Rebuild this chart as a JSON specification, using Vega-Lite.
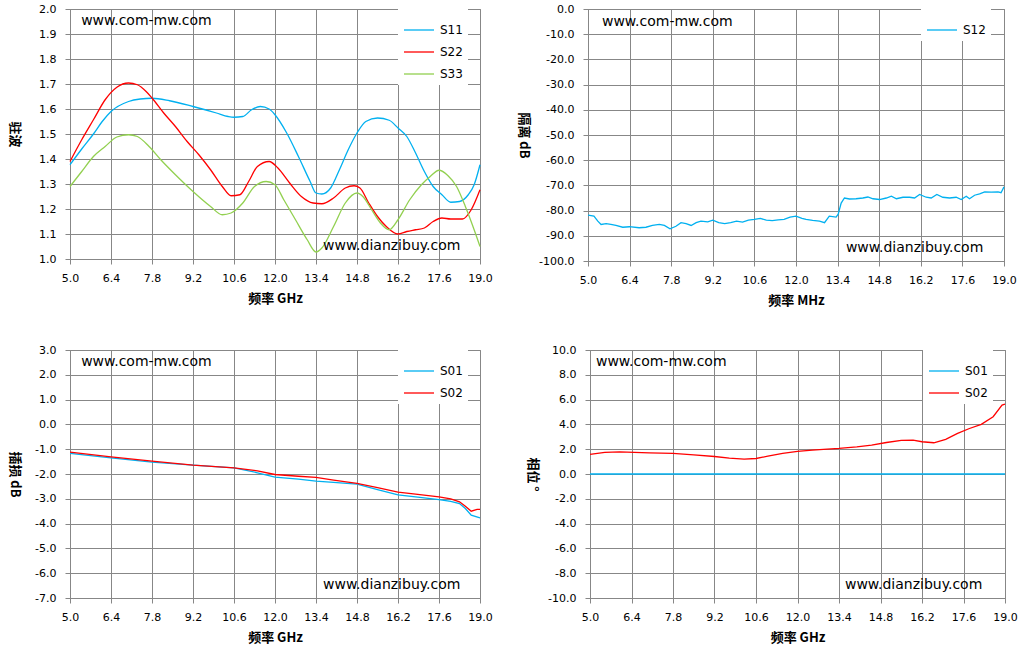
{
  "$schema": "https://vega.github.io/schema/vega-lite/v6.json",
  "background": "white",
  "padding": {"left": 6, "top": 2, "right": 0, "bottom": 0},
  "datasets": {
    "swr": [
      {"s":"S11","f":5.0,"v":1.377},{"s":"S11","f":5.4,"v":1.44},{"s":"S11","f":5.8,"v":1.5},{"s":"S11","f":6.1,"v":1.55},{"s":"S11","f":6.4,"v":1.59},{"s":"S11","f":7.0,"v":1.63},{"s":"S11","f":7.4,"v":1.64},{"s":"S11","f":7.8,"v":1.643},{"s":"S11","f":8.4,"v":1.633},{"s":"S11","f":9.2,"v":1.61},{"s":"S11","f":10.0,"v":1.584},{"s":"S11","f":10.4,"v":1.57},{"s":"S11","f":10.6,"v":1.567},{"s":"S11","f":10.9,"v":1.57},{"s":"S11","f":11.2,"v":1.597},{"s":"S11","f":11.5,"v":1.61},{"s":"S11","f":11.8,"v":1.6},{"s":"S11","f":12.0,"v":1.577},{"s":"S11","f":12.4,"v":1.504},{"s":"S11","f":12.8,"v":1.41},{"s":"S11","f":13.2,"v":1.31},{"s":"S11","f":13.4,"v":1.264},{"s":"S11","f":13.6,"v":1.26},{"s":"S11","f":13.9,"v":1.284},{"s":"S11","f":14.2,"v":1.357},{"s":"S11","f":14.5,"v":1.437},{"s":"S11","f":14.8,"v":1.504},{"s":"S11","f":15.1,"v":1.55},{"s":"S11","f":15.5,"v":1.564},{"s":"S11","f":15.9,"v":1.555},{"s":"S11","f":16.2,"v":1.524},{"s":"S11","f":16.5,"v":1.49},{"s":"S11","f":16.8,"v":1.424},{"s":"S11","f":17.1,"v":1.35},{"s":"S11","f":17.4,"v":1.29},{"s":"S11","f":17.7,"v":1.257},{"s":"S11","f":18.0,"v":1.227},{"s":"S11","f":18.3,"v":1.23},{"s":"S11","f":18.6,"v":1.257},{"s":"S11","f":18.8,"v":1.297},{"s":"S11","f":19.0,"v":1.377},
      {"s":"S22","f":5.0,"v":1.39},{"s":"S22","f":5.4,"v":1.477},{"s":"S22","f":5.8,"v":1.557},{"s":"S22","f":6.2,"v":1.637},{"s":"S22","f":6.6,"v":1.687},{"s":"S22","f":7.0,"v":1.704},{"s":"S22","f":7.3,"v":1.697},{"s":"S22","f":7.6,"v":1.67},{"s":"S22","f":7.8,"v":1.644},{"s":"S22","f":8.2,"v":1.584},{"s":"S22","f":8.6,"v":1.53},{"s":"S22","f":9.0,"v":1.47},{"s":"S22","f":9.4,"v":1.417},{"s":"S22","f":9.8,"v":1.357},{"s":"S22","f":10.2,"v":1.29},{"s":"S22","f":10.5,"v":1.253},{"s":"S22","f":10.8,"v":1.257},{"s":"S22","f":11.1,"v":1.31},{"s":"S22","f":11.4,"v":1.37},{"s":"S22","f":11.8,"v":1.39},{"s":"S22","f":12.1,"v":1.364},{"s":"S22","f":12.5,"v":1.304},{"s":"S22","f":12.9,"v":1.25},{"s":"S22","f":13.3,"v":1.224},{"s":"S22","f":13.6,"v":1.221},{"s":"S22","f":14.0,"v":1.244},{"s":"S22","f":14.4,"v":1.284},{"s":"S22","f":14.7,"v":1.293},{"s":"S22","f":14.9,"v":1.284},{"s":"S22","f":15.2,"v":1.224},{"s":"S22","f":15.5,"v":1.17},{"s":"S22","f":15.8,"v":1.13},{"s":"S22","f":16.2,"v":1.1},{"s":"S22","f":16.5,"v":1.11},{"s":"S22","f":16.8,"v":1.117},{"s":"S22","f":17.1,"v":1.124},{"s":"S22","f":17.4,"v":1.15},{"s":"S22","f":17.7,"v":1.164},{"s":"S22","f":18.0,"v":1.16},{"s":"S22","f":18.4,"v":1.16},{"s":"S22","f":18.7,"v":1.197},{"s":"S22","f":19.0,"v":1.277},
      {"s":"S33","f":5.0,"v":1.29},{"s":"S33","f":5.4,"v":1.35},{"s":"S33","f":5.8,"v":1.41},{"s":"S33","f":6.2,"v":1.45},{"s":"S33","f":6.6,"v":1.488},{"s":"S33","f":7.0,"v":1.497},{"s":"S33","f":7.3,"v":1.49},{"s":"S33","f":7.7,"v":1.45},{"s":"S33","f":8.1,"v":1.397},{"s":"S33","f":8.6,"v":1.337},{"s":"S33","f":9.2,"v":1.27},{"s":"S33","f":9.8,"v":1.21},{"s":"S33","f":10.2,"v":1.177},{"s":"S33","f":10.5,"v":1.184},{"s":"S33","f":10.9,"v":1.224},{"s":"S33","f":11.3,"v":1.29},{"s":"S33","f":11.7,"v":1.31},{"s":"S33","f":12.0,"v":1.297},{"s":"S33","f":12.3,"v":1.237},{"s":"S33","f":12.7,"v":1.157},{"s":"S33","f":13.1,"v":1.077},{"s":"S33","f":13.4,"v":1.028},{"s":"S33","f":13.6,"v":1.044},{"s":"S33","f":14.0,"v":1.13},{"s":"S33","f":14.4,"v":1.224},{"s":"S33","f":14.8,"v":1.264},{"s":"S33","f":15.0,"v":1.25},{"s":"S33","f":15.3,"v":1.197},{"s":"S33","f":15.6,"v":1.144},{"s":"S33","f":15.9,"v":1.117},{"s":"S33","f":16.2,"v":1.157},{"s":"S33","f":16.6,"v":1.237},{"s":"S33","f":17.0,"v":1.297},{"s":"S33","f":17.3,"v":1.33},{"s":"S33","f":17.6,"v":1.355},{"s":"S33","f":17.9,"v":1.334},{"s":"S33","f":18.2,"v":1.29},{"s":"S33","f":18.5,"v":1.21},{"s":"S33","f":18.8,"v":1.117},{"s":"S33","f":19.0,"v":1.05}
    ],
    "iso": [
      {"s":"S12","f":5.0,"v":-81.8},{"s":"S12","f":5.2,"v":-82.2},{"s":"S12","f":5.33,"v":-84.2},{"s":"S12","f":5.44,"v":-85.5},{"s":"S12","f":5.61,"v":-85.2},{"s":"S12","f":5.77,"v":-85.5},{"s":"S12","f":5.94,"v":-85.9},{"s":"S12","f":6.17,"v":-86.6},{"s":"S12","f":6.39,"v":-86.4},{"s":"S12","f":6.72,"v":-86.8},{"s":"S12","f":6.95,"v":-86.6},{"s":"S12","f":7.17,"v":-85.9},{"s":"S12","f":7.4,"v":-85.5},{"s":"S12","f":7.57,"v":-85.9},{"s":"S12","f":7.76,"v":-87.2},{"s":"S12","f":7.96,"v":-86.2},{"s":"S12","f":8.13,"v":-84.8},{"s":"S12","f":8.3,"v":-85.2},{"s":"S12","f":8.47,"v":-85.9},{"s":"S12","f":8.64,"v":-84.8},{"s":"S12","f":8.8,"v":-84.2},{"s":"S12","f":9.03,"v":-84.5},{"s":"S12","f":9.2,"v":-83.8},{"s":"S12","f":9.4,"v":-84.8},{"s":"S12","f":9.6,"v":-85.2},{"s":"S12","f":9.8,"v":-84.8},{"s":"S12","f":10.0,"v":-84.2},{"s":"S12","f":10.2,"v":-84.6},{"s":"S12","f":10.4,"v":-83.8},{"s":"S12","f":10.6,"v":-83.5},{"s":"S12","f":10.8,"v":-83.1},{"s":"S12","f":11.0,"v":-83.8},{"s":"S12","f":11.2,"v":-84.0},{"s":"S12","f":11.4,"v":-83.7},{"s":"S12","f":11.6,"v":-83.5},{"s":"S12","f":11.8,"v":-82.6},{"s":"S12","f":12.0,"v":-82.2},{"s":"S12","f":12.2,"v":-83.1},{"s":"S12","f":12.34,"v":-83.5},{"s":"S12","f":12.56,"v":-83.9},{"s":"S12","f":12.79,"v":-84.2},{"s":"S12","f":12.96,"v":-84.8},{"s":"S12","f":13.12,"v":-82.2},{"s":"S12","f":13.35,"v":-82.6},{"s":"S12","f":13.42,"v":-81.4},{"s":"S12","f":13.52,"v":-77.0},{"s":"S12","f":13.63,"v":-75.0},{"s":"S12","f":13.8,"v":-75.4},{"s":"S12","f":14.02,"v":-75.3},{"s":"S12","f":14.25,"v":-75.0},{"s":"S12","f":14.42,"v":-74.6},{"s":"S12","f":14.59,"v":-75.3},{"s":"S12","f":14.81,"v":-75.6},{"s":"S12","f":15.04,"v":-75.0},{"s":"S12","f":15.21,"v":-74.3},{"s":"S12","f":15.38,"v":-75.3},{"s":"S12","f":15.6,"v":-74.7},{"s":"S12","f":15.82,"v":-74.7},{"s":"S12","f":15.99,"v":-75.0},{"s":"S12","f":16.16,"v":-73.6},{"s":"S12","f":16.38,"v":-74.7},{"s":"S12","f":16.55,"v":-75.0},{"s":"S12","f":16.74,"v":-73.6},{"s":"S12","f":16.94,"v":-74.7},{"s":"S12","f":17.17,"v":-75.0},{"s":"S12","f":17.39,"v":-74.7},{"s":"S12","f":17.56,"v":-75.6},{"s":"S12","f":17.73,"v":-74.3},{"s":"S12","f":17.84,"v":-75.3},{"s":"S12","f":18.01,"v":-73.9},{"s":"S12","f":18.18,"v":-73.4},{"s":"S12","f":18.35,"v":-72.6},{"s":"S12","f":18.57,"v":-72.7},{"s":"S12","f":18.8,"v":-72.6},{"s":"S12","f":18.9,"v":-72.9},{"s":"S12","f":19.0,"v":-70.6}
    ],
    "loss": [
      {"s":"S01","f":5.0,"v":-1.17},{"s":"S01","f":6.4,"v":-1.35},{"s":"S01","f":7.8,"v":-1.52},{"s":"S01","f":9.2,"v":-1.64},{"s":"S01","f":10.6,"v":-1.75},{"s":"S01","f":11.4,"v":-1.95},{"s":"S01","f":12.0,"v":-2.13},{"s":"S01","f":12.8,"v":-2.21},{"s":"S01","f":13.4,"v":-2.29},{"s":"S01","f":14.0,"v":-2.34},{"s":"S01","f":14.8,"v":-2.41},{"s":"S01","f":15.5,"v":-2.63},{"s":"S01","f":16.2,"v":-2.84},{"s":"S01","f":16.8,"v":-2.92},{"s":"S01","f":17.6,"v":-3.03},{"s":"S01","f":18.0,"v":-3.1},{"s":"S01","f":18.3,"v":-3.19},{"s":"S01","f":18.5,"v":-3.39},{"s":"S01","f":18.7,"v":-3.66},{"s":"S01","f":19.0,"v":-3.77},
      {"s":"S02","f":5.0,"v":-1.12},{"s":"S02","f":6.4,"v":-1.31},{"s":"S02","f":7.8,"v":-1.48},{"s":"S02","f":9.2,"v":-1.64},{"s":"S02","f":10.6,"v":-1.75},{"s":"S02","f":11.4,"v":-1.87},{"s":"S02","f":12.0,"v":-2.02},{"s":"S02","f":12.8,"v":-2.09},{"s":"S02","f":13.4,"v":-2.14},{"s":"S02","f":14.0,"v":-2.25},{"s":"S02","f":14.8,"v":-2.38},{"s":"S02","f":15.5,"v":-2.55},{"s":"S02","f":16.2,"v":-2.73},{"s":"S02","f":16.8,"v":-2.81},{"s":"S02","f":17.6,"v":-2.92},{"s":"S02","f":18.0,"v":-3.0},{"s":"S02","f":18.3,"v":-3.12},{"s":"S02","f":18.5,"v":-3.3},{"s":"S02","f":18.7,"v":-3.5},{"s":"S02","f":18.9,"v":-3.43},{"s":"S02","f":19.0,"v":-3.43}
    ],
    "phase": [
      {"s":"S01","f":5.0,"v":0.0},{"s":"S01","f":19.0,"v":0.0},
      {"s":"S02","f":5.0,"v":1.58},{"s":"S02","f":5.5,"v":1.74},{"s":"S02","f":6.0,"v":1.79},{"s":"S02","f":6.5,"v":1.74},{"s":"S02","f":7.0,"v":1.71},{"s":"S02","f":7.8,"v":1.66},{"s":"S02","f":8.5,"v":1.55},{"s":"S02","f":9.2,"v":1.41},{"s":"S02","f":9.7,"v":1.28},{"s":"S02","f":10.2,"v":1.2},{"s":"S02","f":10.6,"v":1.25},{"s":"S02","f":11.0,"v":1.44},{"s":"S02","f":11.5,"v":1.66},{"s":"S02","f":12.0,"v":1.82},{"s":"S02","f":12.5,"v":1.92},{"s":"S02","f":13.0,"v":2.01},{"s":"S02","f":13.4,"v":2.06},{"s":"S02","f":14.0,"v":2.19},{"s":"S02","f":14.5,"v":2.33},{"s":"S02","f":15.0,"v":2.54},{"s":"S02","f":15.5,"v":2.71},{"s":"S02","f":15.9,"v":2.73},{"s":"S02","f":16.2,"v":2.6},{"s":"S02","f":16.6,"v":2.52},{"s":"S02","f":17.0,"v":2.79},{"s":"S02","f":17.4,"v":3.27},{"s":"S02","f":17.8,"v":3.67},{"s":"S02","f":18.2,"v":4.0},{"s":"S02","f":18.6,"v":4.62},{"s":"S02","f":18.9,"v":5.56},{"s":"S02","f":19.0,"v":5.64}
    ]
  },
  "vconcat": [
    {
      "spacing": 22,
      "hconcat": [
        {
          "width": 410, "height": 250,
          "layer": [
            {
              "data": {"name": "swr"},
              "mark": {"type": "line", "strokeWidth": 1.3, "interpolate": "monotone"},
              "encoding": {
                "x": {"field": "f", "type": "quantitative", "scale": {"domain": [5, 19], "nice": false, "zero": false},
                      "axis": {"values": [5, 6.4, 7.8, 9.2, 10.6, 12, 13.4, 14.8, 16.2, 17.6, 19], "format": ".1f", "title": "频率 GHz"}},
                "y": {"field": "v", "type": "quantitative", "scale": {"domain": [1, 2], "nice": false, "zero": false},
                      "axis": {"values": [1, 1.1, 1.2, 1.3, 1.4, 1.5, 1.6, 1.7, 1.8, 1.9, 2], "format": ".1f", "title": "驻波", "minExtent": 40, "maxExtent": 40}},
                "color": {"field": "s", "type": "nominal", "scale": {"domain": ["S11", "S22", "S33"], "range": ["#00B0F0", "#FF0000", "#92D050"]},
                          "legend": {"legendX": 328, "legendY": 0}}
              }
            },
            {
              "data": {"values": [{"f": 5.38, "v": 1.952, "t": "www.com-mw.com"}, {"f": 13.64, "v": 1.052, "t": "www.dianzibuy.com"}]},
              "mark": {"type": "text", "font": "DejaVu Sans", "fontSize": 14, "align": "left", "baseline": "middle", "color": "#000000"},
              "encoding": {"x": {"field": "f", "type": "quantitative"}, "y": {"field": "v", "type": "quantitative"}, "text": {"field": "t"}}
            }
          ]
        },
        {
          "width": 416, "height": 252,
          "layer": [
            {
              "data": {"name": "iso"},
              "mark": {"type": "line", "strokeWidth": 1.3},
              "encoding": {
                "x": {"field": "f", "type": "quantitative", "scale": {"domain": [5, 19], "nice": false, "zero": false},
                      "axis": {"values": [5, 6.4, 7.8, 9.2, 10.6, 12, 13.4, 14.8, 16.2, 17.6, 19], "format": ".1f", "title": "频率 MHz"}},
                "y": {"field": "v", "type": "quantitative", "scale": {"domain": [-100, 0], "nice": false, "zero": false},
                      "axis": {"values": [-100, -90, -80, -70, -60, -50, -40, -30, -20, -10, 0], "format": ".1f", "title": "隔离 dB", "minExtent": 49, "maxExtent": 49}},
                "color": {"field": "s", "type": "nominal", "scale": {"domain": ["S12"], "range": ["#00B0F0"]},
                          "legend": {"legendX": 333, "legendY": 0}}
              }
            },
            {
              "data": {"values": [{"f": 5.47, "v": -5.1, "t": "www.com-mw.com"}, {"f": 13.68, "v": -94.9, "t": "www.dianzibuy.com"}]},
              "mark": {"type": "text", "font": "DejaVu Sans", "fontSize": 14, "align": "left", "baseline": "middle", "color": "#000000"},
              "encoding": {"x": {"field": "f", "type": "quantitative"}, "y": {"field": "v", "type": "quantitative"}, "text": {"field": "t"}}
            }
          ]
        }
      ],
      "resolve": {"scale": {"color": "independent"}, "legend": {"color": "independent"}}
    },
    {
      "spacing": 31,
      "hconcat": [
        {
          "width": 410, "height": 248,
          "layer": [
            {
              "data": {"name": "loss"},
              "mark": {"type": "line", "strokeWidth": 1.3},
              "encoding": {
                "x": {"field": "f", "type": "quantitative", "scale": {"domain": [5, 19], "nice": false, "zero": false},
                      "axis": {"values": [5, 6.4, 7.8, 9.2, 10.6, 12, 13.4, 14.8, 16.2, 17.6, 19], "format": ".1f", "title": "频率 GHz"}},
                "y": {"field": "v", "type": "quantitative", "scale": {"domain": [-7, 3], "nice": false, "zero": false},
                      "axis": {"values": [-7, -6, -5, -4, -3, -2, -1, 0, 1, 2, 3], "format": ".1f", "title": "插损 dB", "minExtent": 40, "maxExtent": 40}},
                "color": {"field": "s", "type": "nominal", "scale": {"domain": ["S01", "S02"], "range": ["#00B0F0", "#FF0000"]},
                          "legend": {"legendX": 328, "legendY": 0}}
              }
            },
            {
              "data": {"values": [{"f": 5.38, "v": 2.52, "t": "www.com-mw.com"}, {"f": 13.64, "v": -6.48, "t": "www.dianzibuy.com"}]},
              "mark": {"type": "text", "font": "DejaVu Sans", "fontSize": 14, "align": "left", "baseline": "middle", "color": "#000000"},
              "encoding": {"x": {"field": "f", "type": "quantitative"}, "y": {"field": "v", "type": "quantitative"}, "text": {"field": "t"}}
            }
          ]
        },
        {
          "width": 415, "height": 248,
          "layer": [
            {
              "data": {"name": "phase"},
              "mark": {"type": "line", "strokeWidth": 1.3},
              "encoding": {
                "x": {"field": "f", "type": "quantitative", "scale": {"domain": [5, 19], "nice": false, "zero": false},
                      "axis": {"values": [5, 6.4, 7.8, 9.2, 10.6, 12, 13.4, 14.8, 16.2, 17.6, 19], "format": ".1f", "title": "频率 GHz"}},
                "y": {"field": "v", "type": "quantitative", "scale": {"domain": [-10, 10], "nice": false, "zero": false},
                      "axis": {"values": [-10, -8, -6, -4, -2, 0, 2, 4, 6, 8, 10], "format": ".1f", "title": "相位 °", "minExtent": 42, "maxExtent": 42}},
                "color": {"field": "s", "type": "nominal", "scale": {"domain": ["S01", "S02"], "range": ["#00B0F0", "#FF0000"]},
                          "legend": {"legendX": 333, "legendY": 0}}
              }
            },
            {
              "data": {"values": [{"f": 5.2, "v": 9.03, "t": "www.com-mw.com"}, {"f": 13.6, "v": -8.95, "t": "www.dianzibuy.com"}]},
              "mark": {"type": "text", "font": "DejaVu Sans", "fontSize": 14, "align": "left", "baseline": "middle", "color": "#000000"},
              "encoding": {"x": {"field": "f", "type": "quantitative"}, "y": {"field": "v", "type": "quantitative"}, "text": {"field": "t"}}
            }
          ]
        }
      ],
      "resolve": {"scale": {"color": "independent"}, "legend": {"color": "independent"}}
    }
  ],
  "spacing": 35,
  "resolve": {"scale": {"color": "independent"}, "legend": {"color": "independent"}},
  "config": {
    "view": {"stroke": "#878787"},
    "axis": {
      "gridColor": "#878787", "gridOpacity": 1, "gridWidth": 1,
      "domainColor": "#878787", "tickColor": "#878787", "tickSize": 5, "tickCount": 30,
      "labelFont": "DejaVu Sans", "labelFontSize": 11, "labelColor": "#000000",
      "labelOverlap": false, "labelExpr": "replace(datum.label, '\u2212', '-')",
      "titleFont": "Noto Sans CJK SC", "titleFontSize": 13, "titleFontWeight": "bold", "titleColor": "#000000"
    },
    "axisX": {"labelPadding": 8, "titlePadding": 9, "labelFlush": false},
    "axisY": {"labelPadding": 9, "titlePadding": 10, "titleAngle": 90, "titleBaseline": "top"},
    "legend": {
      "orient": "none", "title": null, "fillColor": "#ffffff", "padding": 5,
      "symbolType": "stroke", "symbolSize": 900, "symbolStrokeWidth": 1.3,
      "labelFont": "DejaVu Sans", "labelFontSize": 12, "labelColor": "#000000",
      "labelOffset": 5, "rowPadding": -1
    }
  }
}
